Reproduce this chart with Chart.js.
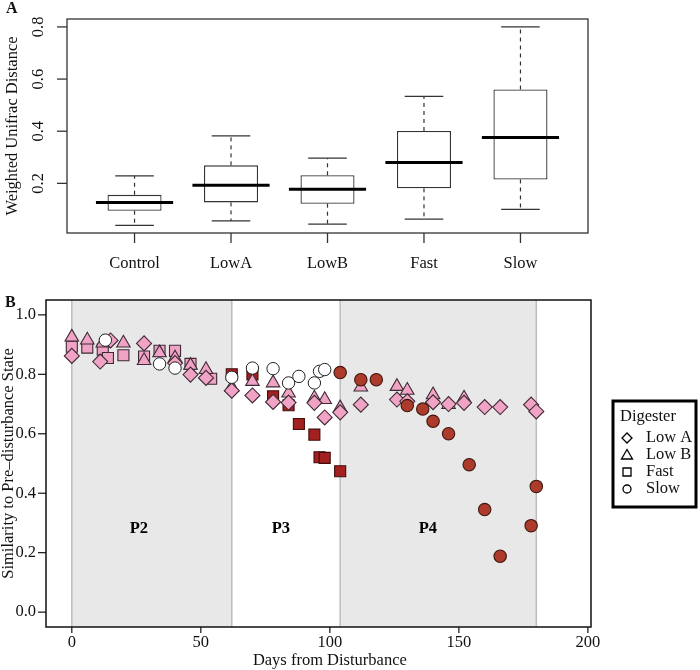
<!DOCTYPE html>
<html>
<head>
<meta charset="utf-8">
<script src="https://cdn.jsdelivr.net/npm/chart.js@4.4.1/dist/chart.umd.min.js"></script>
<style>
  body { margin: 0; background: #fff; }
  #wrap { position: relative; width: 700px; height: 670px; }
  canvas { position: absolute; left: 0; }
</style>
</head>
<body>
<div id="wrap">
  <canvas id="chartA" width="700" height="290" style="top:0"></canvas>
  <canvas id="chartB" width="700" height="380" style="top:290px"></canvas>
</div>
<script>
// ---- panel A : boxplot ----
const groups = ['Control', 'LowA', 'LowB', 'Fast', 'Slow'];
const whiskLow  = [0.039, 0.056, 0.044, 0.063, 0.100];
const q1        = [0.095, 0.127, 0.122, 0.181, 0.215];
const median    = [0.127, 0.193, 0.177, 0.280, 0.376];
const q3        = [0.156, 0.269, 0.231, 0.401, 0.560];
const whiskHigh = [0.229, 0.382, 0.297, 0.534, 0.800];
const ticksA = [0.2, 0.4, 0.6, 0.8];

// ---- panel B : similarity over time ([day, value]) ----
const lowA = [[0,0.862],[11,0.843],[15,0.914],[28,0.904],[40,0.838],[46,0.799],[52,0.788],[62,0.745],
  [70,0.729],[78,0.707],[84,0.705],[94,0.704],[98,0.655],[104,0.672],[112,0.698],[126,0.715],[130,0.709],
  [140,0.706],[146,0.70],[152,0.704],[160,0.69],[166,0.69],[178,0.698],[180,0.675]];
const lowB = [[0,0.925],[6,0.915],[12,0.905],[20,0.905],[28,0.846],[34,0.872],[40,0.855],[46,0.83],
  [52,0.816],[62,0.756],[70,0.776],[78,0.771],[84,0.737],[94,0.72],[98,0.715],[104,0.687],[112,0.757],
  [126,0.759],[130,0.746],[140,0.731],[146,0.698],[152,0.72]];
const fastEarly = [[0,0.893],[6,0.89],[12,0.883],[14,0.855],[20,0.864],[28,0.86],[34,0.879],[40,0.879],
  [46,0.835],[54,0.785]];
const fastLate = [[62,0.80],[70,0.80],[78,0.726],[84,0.696],[88,0.633],[94,0.597],[96,0.521],[98,0.519],[104,0.474]];
const slowEarly = [[13,0.915],[34,0.835],[40,0.821],[62,0.79],[70,0.821],[78,0.819],[84,0.771],[88,0.793],
  [94,0.771],[96,0.81],[98,0.816]];
const slowLate = [[104,0.806],[112,0.782],[118,0.782],[130,0.695],[136,0.683],[140,0.642],[146,0.60],
  [154,0.496],[160,0.345],[166,0.188],[178,0.291],[180,0.423]];
const phaseEdges = [0, 62, 104, 180];
const phaseLabels = ['P2', 'P3', 'P4'];
const phaseLabelDays = [26, 81, 138];
const ticksBx = [0, 50, 100, 150, 200];
const ticksBy = [0, 0.2, 0.4, 0.6, 0.8, 1.0];
const legendLabels = ['Low A', 'Low B', 'Fast', 'Slow'];

const SERIF = '"Liberation Serif", "DejaVu Serif", serif';
const PINK = '#f1a3c6';

function toXY(arr) { return arr.map(p => ({ x: p[0], y: p[1] })); }

function line(ctx, x1, y1, x2, y2) {
  ctx.beginPath(); ctx.moveTo(x1, y1); ctx.lineTo(x2, y2); ctx.stroke();
}

// whiskers, caps, medians, axes of panel A
const boxPlugin = {
  id: 'boxA',
  afterDatasetsDraw(chart) {
    const { ctx, scales: { x, y } } = chart;
    ctx.save();
    groups.forEach((g, i) => {
      const px = x.getPixelForValue(i + 1);
      const half = x.getPixelForValue(i + 1.4) - px;
      const cap = x.getPixelForValue(i + 1.2) - px;
      ctx.strokeStyle = '#333';
      ctx.lineWidth = 1.2;
      ctx.setLineDash([4, 4]);
      line(ctx, px, y.getPixelForValue(q3[i]), px, y.getPixelForValue(whiskHigh[i]));
      line(ctx, px, y.getPixelForValue(q1[i]), px, y.getPixelForValue(whiskLow[i]));
      ctx.setLineDash([]);
      line(ctx, px - cap, y.getPixelForValue(whiskHigh[i]), px + cap, y.getPixelForValue(whiskHigh[i]));
      line(ctx, px - cap, y.getPixelForValue(whiskLow[i]), px + cap, y.getPixelForValue(whiskLow[i]));
      ctx.strokeStyle = '#000';
      ctx.lineWidth = 3;
      const ym = y.getPixelForValue(median[i]);
      line(ctx, px - half, ym, px + half, ym);
    });
    ctx.restore();
  },
  afterDraw(chart) {
    const { ctx, chartArea: a, scales: { x, y } } = chart;
    ctx.save();
    ctx.strokeStyle = '#333';
    ctx.lineWidth = 1.3;
    ctx.strokeRect(a.left, a.top, a.right - a.left, a.bottom - a.top);
    ctx.fillStyle = '#111';
    ctx.font = '16.5px ' + SERIF;
    ctx.textAlign = 'center';
    ctx.textBaseline = 'middle';
    groups.forEach((g, i) => {
      const px = x.getPixelForValue(i + 1);
      line(ctx, px, a.bottom, px, a.bottom + 10);
      ctx.fillText(g, px, a.bottom + 31);
    });
    ticksA.forEach(t => {
      const py = y.getPixelForValue(t);
      line(ctx, a.left - 10, py, a.left, py);
      ctx.save();
      ctx.translate(a.left - 28, py);
      ctx.rotate(-Math.PI / 2);
      ctx.fillText(t.toFixed(1), 0, 0);
      ctx.restore();
    });
    ctx.save();
    ctx.translate(13, (a.top + a.bottom) / 2);
    ctx.rotate(-Math.PI / 2);
    ctx.fillText('Weighted Unifrac Distance', 0, 0);
    ctx.restore();
    ctx.font = 'bold 16px ' + SERIF;
    ctx.textAlign = 'left';
    ctx.fillText('A', 6, 9);
    ctx.restore();
  }
};

new Chart(document.getElementById('chartA'), {
  type: 'bar',
  data: {
    datasets: [{
      data: groups.map((g, i) => ({ x: i + 1, y: [q1[i], q3[i]] })),
      backgroundColor: '#fff',
      borderColor: '#333',
      borderWidth: 1.3,
      borderSkipped: false,
      barPercentage: 0.8,
      categoryPercentage: 1
    }]
  },
  options: {
    responsive: false,
    animation: false,
    layout: { padding: { left: 67, top: 19, right: 112, bottom: 57 } },
    plugins: { legend: { display: false }, tooltip: { enabled: false } },
    scales: {
      x: { type: 'linear', display: false, offset: false, min: 0.3, max: 5.7 },
      y: { display: false, min: 0.0096, max: 0.8304 }
    }
  },
  plugins: [boxPlugin]
});

// shaded phases, axes, legend of panel B
function drawSymbol(ctx, style, cx, cy) {
  ctx.beginPath();
  if (style === 'diamond') {
    ctx.moveTo(cx, cy - 5); ctx.lineTo(cx + 5, cy); ctx.lineTo(cx, cy + 5); ctx.lineTo(cx - 5, cy); ctx.closePath();
  } else if (style === 'triangle') {
    ctx.moveTo(cx, cy - 5.5); ctx.lineTo(cx + 5.5, cy + 4); ctx.lineTo(cx - 5.5, cy + 4); ctx.closePath();
  } else if (style === 'square') {
    ctx.rect(cx - 4, cy - 4, 8, 8);
  } else {
    ctx.arc(cx, cy, 4, 0, Math.PI * 2);
  }
  ctx.stroke();
}

const phasePlugin = {
  id: 'phaseB',
  beforeDatasetsDraw(chart) {
    const { ctx, chartArea: a, scales: { x, y } } = chart;
    ctx.save();
    ctx.fillStyle = '#e8e8e8';
    [[0, 1], [2, 3]].forEach(([s, e]) => {
      const x1 = x.getPixelForValue(phaseEdges[s]);
      const x2 = x.getPixelForValue(phaseEdges[e]);
      ctx.fillRect(x1, a.top, x2 - x1, a.bottom - a.top);
    });
    ctx.strokeStyle = '#bdbdbd';
    ctx.lineWidth = 1.5;
    phaseEdges.forEach(d => {
      const px = x.getPixelForValue(d);
      line(ctx, px, a.top, px, a.bottom);
    });
    ctx.fillStyle = '#000';
    ctx.font = 'bold 16.5px ' + SERIF;
    ctx.textAlign = 'center';
    ctx.textBaseline = 'middle';
    phaseLabels.forEach((p, i) => {
      ctx.fillText(p, x.getPixelForValue(phaseLabelDays[i]), y.getPixelForValue(0.28));
    });
    ctx.restore();
  },
  afterDraw(chart) {
    const { ctx, chartArea: a, scales: { x, y } } = chart;
    ctx.save();
    ctx.strokeStyle = '#111';
    ctx.lineWidth = 1.5;
    ctx.strokeRect(a.left, a.top, a.right - a.left, a.bottom - a.top);
    ctx.fillStyle = '#111';
    ctx.font = '16.5px ' + SERIF;
    ctx.textBaseline = 'middle';
    ctx.lineWidth = 1.2;
    ctx.textAlign = 'center';
    ticksBx.forEach(t => {
      const px = x.getPixelForValue(t);
      line(ctx, px, a.bottom, px, a.bottom + 6);
      ctx.fillText(String(t), px, a.bottom + 16);
    });
    ctx.fillText('Days from Disturbance', x.getPixelForValue(100), a.bottom + 34);
    ctx.textAlign = 'right';
    ticksBy.forEach(t => {
      const py = y.getPixelForValue(t);
      line(ctx, a.left - 8, py, a.left, py);
      ctx.fillText(t.toFixed(1), a.left - 10, py);
    });
    ctx.textAlign = 'center';
    ctx.save();
    ctx.translate(9, (a.top + a.bottom) / 2);
    ctx.rotate(-Math.PI / 2);
    ctx.fillText('Similarity to Pre\u2013disturbance State', 0, 0);
    ctx.restore();

    // legend
    ctx.lineWidth = 3;
    ctx.strokeStyle = '#000';
    ctx.strokeRect(613, 111, 83, 106);
    ctx.textAlign = 'left';
    ctx.fillStyle = '#111';
    ctx.fillText('Digester', 620, 127);
    const styles = ['diamond', 'triangle', 'square', 'circle'];
    ctx.lineWidth = 1.3;
    legendLabels.forEach((l, i) => {
      const cy = 148 + i * 17;
      drawSymbol(ctx, styles[i], 627, cy);
      ctx.fillText(l, 646, cy);
    });

    ctx.font = 'bold 16px ' + SERIF;
    ctx.fillText('B', 5, 13);
    ctx.restore();
  }
};

new Chart(document.getElementById('chartB'), {
  type: 'scatter',
  data: {
    datasets: [
      { data: toXY(slowEarly), pointStyle: 'circle', pointRadius: 6.2, backgroundColor: '#fff', borderColor: '#222', borderWidth: 1 },
      { data: toXY(slowLate), pointStyle: 'circle', pointRadius: 6.2, backgroundColor: '#ad3b2b', borderColor: '#3e160e', borderWidth: 1.1 },
      { data: toXY(lowA), pointStyle: 'rectRot', pointRadius: 7.5, backgroundColor: PINK, borderColor: '#3d2a33', borderWidth: 1.1 },
      { data: toXY(lowB), pointStyle: 'triangle', pointRadius: 7.8, backgroundColor: PINK, borderColor: '#3d2a33', borderWidth: 1.1 },
      { data: toXY(fastEarly), pointStyle: 'rect', pointRadius: 7.8, backgroundColor: PINK, borderColor: '#3d2a33', borderWidth: 1.1 },
      { data: toXY(fastLate), pointStyle: 'rect', pointRadius: 7.8, backgroundColor: '#a32020', borderColor: '#420c0c', borderWidth: 1.1 }
    ]
  },
  options: {
    responsive: false,
    animation: false,
    layout: { padding: { left: 46, top: 10, right: 109, bottom: 43 } },
    plugins: { legend: { display: false }, tooltip: { enabled: false } },
    scales: {
      x: { display: false, min: -10, max: 201.2 },
      y: { display: false, min: -0.05, max: 1.05 }
    }
  },
  plugins: [phasePlugin]
});
</script>
</body>
</html>
